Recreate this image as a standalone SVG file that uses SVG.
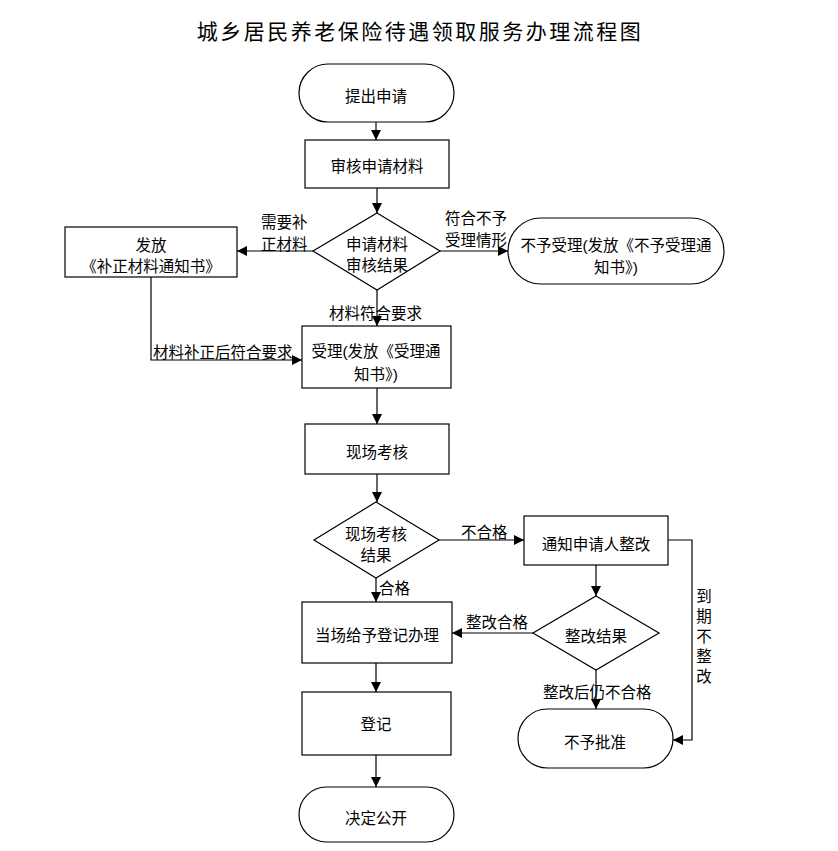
<svg xmlns="http://www.w3.org/2000/svg" width="838" height="851" viewBox="0 0 838 851">
<defs>
<marker id="ah" viewBox="0 0 10 10" refX="10" refY="5" markerWidth="10" markerHeight="10" markerUnits="userSpaceOnUse" orient="auto">
<path d="M0,0 L10,5 L0,10 z" fill="#000"/>
</marker>
<style>
.s{fill:#fff;stroke:#000;stroke-width:1.2}
.t{font-family:"Liberation Sans","Noto Sans CJK SC",sans-serif;font-size:15.5px;fill:#000;text-anchor:middle}
.l{font-family:"Liberation Sans","Noto Sans CJK SC",sans-serif;font-size:15.5px;fill:#000}
.c{fill:none;stroke:#000;stroke-width:1.2;marker-end:url(#ah)}
.ttl{font-family:"Liberation Serif","Noto Sans CJK SC",serif;font-size:21px;letter-spacing:2.5px;text-anchor:middle;fill:#000}
</style>
</defs>
<rect width="838" height="851" fill="#fff"/>
<text class="ttl" x="420" y="39">城乡居民养老保险待遇领取服务办理流程图</text>

<g id="connectors">
<path class="c" d="M376,122 V140"/>
<path class="c" d="M377,188 V213"/>
<path class="c" d="M313,251 H237"/>
<path class="c" d="M440,251 H508"/>
<path class="c" d="M377,290 V326"/>
<path class="c" d="M151,277 V360 H302"/>
<path class="c" d="M377,388 V424"/>
<path class="c" d="M377,474 V502"/>
<path class="c" d="M439,540 H524"/>
<path class="c" d="M376,578 V602"/>
<path class="c" d="M596,565 V596"/>
<path class="c" d="M668,540 H692 V740 H673"/>
<path class="c" d="M533,633 H452"/>
<path class="c" d="M596,670 V709"/>
<path class="c" d="M376,663 V692"/>
<path class="c" d="M376,755 V787"/>
<text class="l" x="261" y="228">需要补</text>
<text class="l" x="261" y="250">正材料</text>
<text class="l" x="445" y="224">符合不予</text>
<text class="l" x="445" y="246">受理情形</text>
<text class="l" x="329" y="319">材料符合要求</text>
<text class="l" x="153" y="358">材料补正后符合要求</text>
<text class="l" x="461" y="538">不合格</text>
<text class="l" x="379" y="594">合格</text>
<text class="l" x="466" y="628">整改合格</text>
<text class="l" x="543" y="698">整改后仍不合格</text>
<text class="t" x="704" y="602">到</text>
<text class="t" x="704" y="622">期</text>
<text class="t" x="704" y="642">不</text>
<text class="t" x="704" y="662">整</text>
<text class="t" x="704" y="682">改</text>
</g>

<g id="n1"><rect class="s" x="299" y="64" width="155" height="58" rx="29"/><text class="t" x="376" y="102">提出申请</text></g>
<g id="n2"><rect class="s" x="305" y="140" width="144" height="48"/><text class="t" x="377" y="172">审核申请材料</text></g>
<g id="n3"><polygon class="s" points="377,213 440,251 377,290 313,251"/><text class="t" x="377" y="250">申请材料</text><text class="t" x="377" y="271">审核结果</text></g>
<g id="n4"><rect class="s" x="65" y="227" width="172" height="50"/><text class="t" x="151" y="251">发放</text><text class="t" x="151" y="272">《补正材料通知书》</text></g>
<g id="n5"><rect class="s" x="508" y="218" width="216" height="66" rx="33"/><text class="t" x="616" y="251">不予受理(发放《不予受理通</text><text class="t" x="616" y="273">知书》)</text></g>
<g id="n6"><rect class="s" x="302" y="326" width="149" height="62"/><text class="t" x="376" y="357">受理(发放《受理通</text><text class="t" x="376" y="380">知书》)</text></g>
<g id="n7"><rect class="s" x="305" y="424" width="144" height="50"/><text class="t" x="377" y="458">现场考核</text></g>
<g id="n8"><polygon class="s" points="376,502 439,540 376,578 314,540"/><text class="t" x="376" y="540">现场考核</text><text class="t" x="376" y="561">结果</text></g>
<g id="n9"><rect class="s" x="524" y="516" width="144" height="49"/><text class="t" x="596" y="550">通知申请人整改</text></g>
<g id="n10"><polygon class="s" points="596,596 659,633 596,670 533,633"/><text class="t" x="596" y="642">整改结果</text></g>
<g id="n11"><rect class="s" x="302" y="602" width="150" height="61"/><text class="t" x="377" y="641">当场给予登记办理</text></g>
<g id="n12"><rect class="s" x="302" y="692" width="149" height="63"/><text class="t" x="376" y="730">登记</text></g>
<g id="n13"><rect class="s" x="299" y="787" width="155" height="55" rx="27.5"/><text class="t" x="376" y="824">决定公开</text></g>
<g id="n14"><rect class="s" x="518" y="709" width="155" height="59" rx="29.5"/><text class="t" x="595" y="748">不予批准</text></g>
</svg>
